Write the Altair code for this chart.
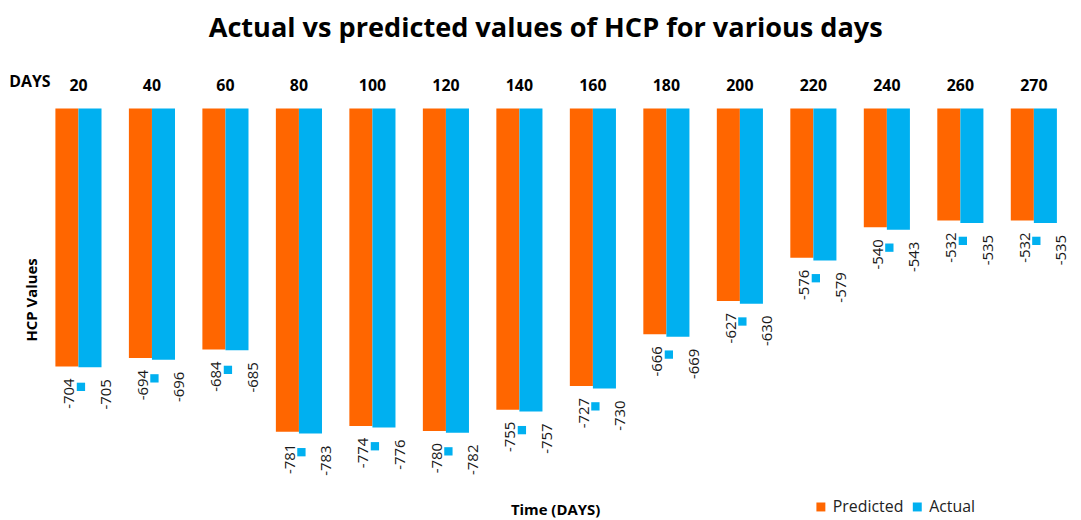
import altair as alt
import pandas as pd

days = [20, 40, 60, 80, 100, 120, 140, 160, 180, 200, 220, 240, 260, 270]
predicted = [-704, -694, -684, -781, -774, -780, -755, -727, -666, -627, -576, -540, -532, -532]
actual = [-705, -696, -685, -783, -776, -782, -757, -730, -669, -630, -579, -543, -535, -535]
series_names = ["Predicted", "Actual"]
colors = ["#FF6600", "#00B0F0"]

day_labels = [str(d) for d in days]
rows = []
for d, p, a in zip(day_labels, predicted, actual):
    rows.append({"day": d, "series": "Predicted", "value": p})
    rows.append({"day": d, "series": "Actual", "value": a})
df = pd.DataFrame(rows)

FONT = "Open Sans"

x_scale = alt.Scale(paddingInner=0.3725, paddingOuter=0.05)
y_scale = alt.Scale(domain=[-850, -400], nice=False, zero=False)
y_axis = alt.Axis(title="HCP Values", labels=False, ticks=False, domain=False,
                  grid=False, titleFont=FONT, titleFontSize=15,
                  titleFontWeight="bold", titleColor="#000000", titlePadding=12)

X = alt.X("day:N", sort=day_labels, scale=x_scale, axis=None)
Y = alt.Y("value:Q", scale=y_scale, axis=y_axis)

base = alt.Chart(df).transform_calculate(lbl="'' + datum.value")

bars = base.mark_bar().encode(
    x=X,
    xOffset=alt.XOffset("series:N", sort=series_names,
                        scale=alt.Scale(paddingInner=0, paddingOuter=0)),
    y=Y,
    y2=alt.datum(-400),
    color=alt.Color("series:N", sort=series_names,
                    scale=alt.Scale(domain=series_names, range=colors),
                    legend=alt.Legend(orient="none", legendX=766, legendY=393,
                                      direction="horizontal", title=None,
                                      symbolType="square", symbolSize=81,
                                      symbolStrokeWidth=0,
                                      labelFont=FONT, labelFontSize=16,
                                      labelColor="#222222", columnPadding=5,
                                      labelOffset=4, padding=0)),
)

pred_labels = base.transform_filter(alt.datum.series == "Predicted").mark_text(
    angle=270, align="right", baseline="middle", xOffset=-9.2, yOffset=12,
    font=FONT, fontSize=15, color="#1a1a1a",
).encode(x=X, y=Y, text="lbl:N")

act_labels = base.transform_filter(alt.datum.series == "Actual").mark_text(
    angle=270, align="right", baseline="middle", xOffset=27.5, yOffset=12,
    font=FONT, fontSize=15, color="#1a1a1a",
).encode(x=X, y=Y, text="lbl:N")

squares = base.transform_filter(alt.datum.series == "Predicted").mark_square(
    size=70, color="#00B0F0", opacity=1, filled=True, xOffset=2.5, yOffset=20.5,
).encode(x=X, y=Y)

day_text = base.transform_filter(alt.datum.series == "Predicted").mark_text(
    font=FONT, fontSize=16, fontWeight="bold", baseline="middle", color="#000000",
).encode(x=X, y=alt.value(-22.5), text="day:N")

days_title = alt.Chart(pd.DataFrame({"t": ["DAYS"]})).mark_text(
    font=FONT, fontSize=16, fontWeight="bold", baseline="middle", color="#000000",
).encode(x=alt.value(-22), y=alt.value(-26.5), text="t:N")

time_title = alt.Chart(pd.DataFrame({"t": ["Time (DAYS)"]})).mark_text(
    font=FONT, fontSize=15, fontWeight="bold", baseline="middle", color="#000000",
).encode(x=alt.value(507), y=alt.value(404), text="t:N")

chart = alt.layer(
    bars, pred_labels, act_labels, squares, day_text, days_title, time_title
).properties(
    width=1015.2,
    height=384.3,
    padding={"left": 44.0, "top": 99.5, "right": 12.5, "bottom": 28.2},
    autosize=alt.AutoSizeParams(type="none"),
    background="white",
    title=alt.TitleParams(
        "Actual vs predicted values of HCP for various days",
        font=FONT, fontSize=27.3, fontWeight="bold", color="#000000",
        anchor="middle", dx=-10.5, offset=32,
    ),
).configure_view(stroke=None)

chart.save("out.html", embed_options={"renderer": "svg", "actions": False})
